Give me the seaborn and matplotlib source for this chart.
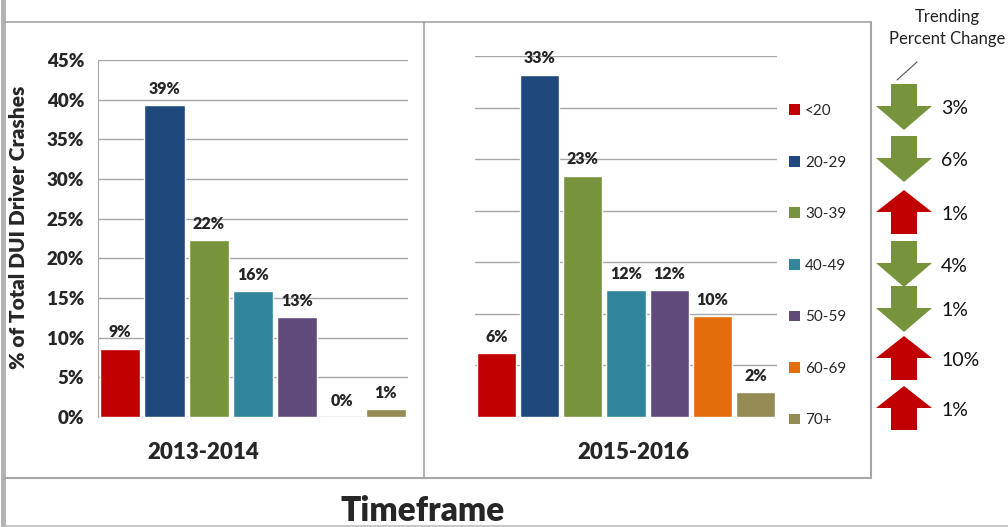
import pandas as pd
import seaborn as sns
import matplotlib.pyplot as plt
import matplotlib.ticker as mticker
from matplotlib.patches import Patch, FancyArrow, Rectangle

# Data (percent of total DUI driver crashes).
ages = ['<20', '20-29', '30-39', '40-49', '50-59', '60-69', '70+']
pct_2013_2014 = [8.6, 39.3, 22.3, 15.9, 12.6, 0.0, 1.0]
pct_2015_2016 = [6.2, 33.2, 23.4, 12.3, 12.3, 9.8, 2.4]
trend_change = ['3%', '6%', '1%', '4%', '1%', '10%', '1%']
trend_up = [False, False, True, False, False, True, True]
colors = ['#C00000', '#1F497D', '#77933C', '#31859C', '#604A7B', '#E46C0A', '#948A54']

W, H = 1008, 527
GRID = '#a6a6a6'
BOLD = 'heavy'


def px(x0, y0, x1, y1):
    # Pixel box (top-left origin) to figure fraction rect.
    return [x0 / W, 1 - y1 / H, (x1 - x0) / W, (y1 - y0) / H]


def panel(ax, values, ymax, label, label_x, show_y):
    df = pd.DataFrame({'age': ages, 'pct': values})
    sns.barplot(data=df, x='age', y='pct', hue='age', palette=colors, hue_order=ages,
                order=ages, width=0.91, saturation=1, legend=False, ax=ax)
    for c in ax.containers:
        ax.bar_label(c, fmt='{:.0f}%', padding=6, fontsize=11.5, fontweight=BOLD)
    ax.set_xlim(-0.5, 6.5)
    ax.set_ylim(0, ymax)
    ax.set_facecolor('none')
    ax.yaxis.set_major_locator(mticker.MultipleLocator(5))
    ax.yaxis.set_major_formatter(mticker.PercentFormatter(xmax=100, decimals=0))
    ax.grid(axis='y', color=GRID, lw=1)
    ax.set_axisbelow(True)
    for s in ['top', 'right', 'bottom']:
        ax.spines[s].set_visible(False)
    ax.spines['left'].set_color(GRID)
    ax.set_xticks([])
    ax.set_xlabel('')
    ax.set_ylabel('')
    if show_y:
        ax.tick_params(axis='y', length=6, color=GRID, labelsize=13.5, pad=4)
        for t in ax.get_yticklabels():
            t.set_fontweight(BOLD)
    else:
        ax.spines['left'].set_visible(False)
        ax.tick_params(axis='y', length=0, labelleft=False)
    ax.text(label_x, -0.07, label, transform=ax.transAxes, ha='center', va='top',
            fontsize=16, fontweight=BOLD)


sns.set_style('white')
plt.rcParams['font.family'] = ['Lato', 'DejaVu Sans']

fig = plt.figure(figsize=(W / 100, H / 100), dpi=100)

# Overlay in pixel units for the frame, arrows and annotations.
ov = fig.add_axes([0, 0, 1, 1])
ov.set_xlim(0, W)
ov.set_ylim(H, 0)
ov.axis('off')
ov.add_patch(Rectangle((1, 0), 5, H, color='#b3b3b3', lw=0))
ov.plot([5, 871], [21.5, 21.5], color=GRID, lw=1.2)
ov.plot([5, 871], [478, 478], color=GRID, lw=1.5)
ov.plot([424, 424], [21.5, 478], color=GRID, lw=1.2)
ov.plot([871, 871], [21.5, 478], color=GRID, lw=1.5)
ov.plot([6, W], [526, 526], color='#c8c8c8', lw=1.5)

ax1 = fig.add_axes(px(98, 60, 408, 417))
panel(ax1, pct_2013_2014, 45, '2013-2014', 0.339, True)
ax1.set_ylabel('% of Total DUI Driver Crashes', fontsize=15, fontweight=BOLD)
ax1.yaxis.set_label_coords(-0.226, 0.53)

ax2 = fig.add_axes(px(475, 56, 777, 417))
panel(ax2, pct_2015_2016, 35, '2015-2016', 0.526, False)

fig.text(423 / W, 1 - 511 / H, 'Timeframe', ha='center', va='center',
         fontsize=24, fontweight=BOLD)

handles = [Patch(facecolor=c, edgecolor='none') for c in colors]
fig.legend(handles, ages, loc='upper left', bbox_to_anchor=(789 / W, 1 - 104 / H),
           frameon=False, borderaxespad=0, borderpad=0, handlelength=0.7,
           handleheight=0.7, handletextpad=0.35, labelspacing=2.46, fontsize=11)

# Trending percent change column.
ov.text(947, 17, 'Trending', ha='center', va='center', fontsize=12, color='#222222')
ov.text(947, 39, 'Percent Change', ha='center', va='center', fontsize=12, color='#222222')
ov.plot([917, 897], [62, 80], color='#555555', lw=0.8)
row_y = [107, 159, 212, 264, 309, 358, 408]
for y, txt, up in zip(row_y, trend_change, trend_up):
    if up:
        arr = FancyArrow(904, y + 22, 0, -44, width=26, head_width=56, head_length=22,
                         length_includes_head=True, color='#C00000', lw=0)
    else:
        arr = FancyArrow(904, y - 23, 0, 46, width=26, head_width=56, head_length=24,
                         length_includes_head=True, color='#77933C', lw=0)
    ov.add_patch(arr)
    ov.text(941, y + 2, txt, ha='left', va='center', fontsize=14, color='#111111')

fig.savefig('out.png', dpi=100)
